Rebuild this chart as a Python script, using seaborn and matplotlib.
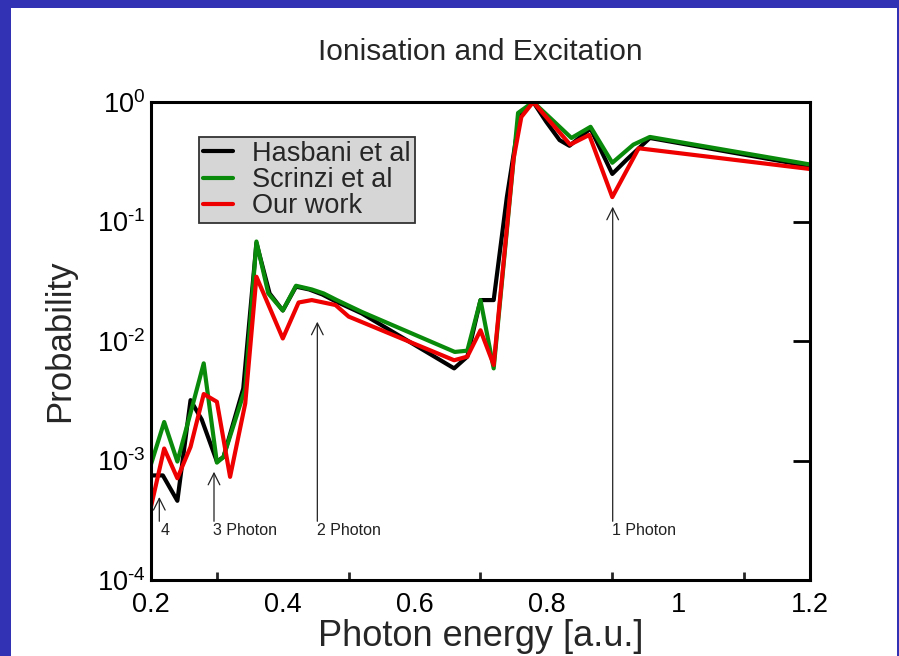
import matplotlib
matplotlib.use("Agg")
import matplotlib.pyplot as plt
from matplotlib.lines import Line2D
from matplotlib.patches import Rectangle
from matplotlib.ticker import FixedLocator, FixedFormatter, NullLocator
import pandas as pd
import seaborn as sns

# Photoionisation / excitation probabilities versus photon energy
hasbani_energy = [0.20, 0.218, 0.24, 0.26, 0.277, 0.30, 0.31, 0.34, 0.36, 0.38, 0.40, 0.42,
                  0.44, 0.46, 0.48, 0.52, 0.66, 0.68, 0.70, 0.72, 0.74, 0.76, 0.78, 0.80,
                  0.82, 0.835, 0.867, 0.90, 0.922, 0.957, 1.20]
hasbani_prob = [7.5e-4, 7.5e-4, 4.6e-4, 3.2e-3, 2.2e-3, 9.8e-4, 1.07e-3, 4.0e-3, 6.6e-2, 2.5e-2,
                1.8e-2, 2.85e-2, 2.7e-2, 2.45e-2, 2.15e-2, 1.7e-2, 5.9e-3, 7.4e-3, 2.2e-2,
                2.2e-2, 0.16, 0.80, 1.0, 0.68, 0.48, 0.43, 0.60, 0.25, 0.33, 0.50, 0.29]

scrinzi_energy = [0.20, 0.22, 0.24, 0.26, 0.28, 0.30, 0.31, 0.343, 0.36, 0.378, 0.40, 0.42,
                  0.444, 0.462, 0.482, 0.52, 0.661, 0.68, 0.70, 0.72, 0.757, 0.78, 0.838,
                  0.867, 0.90, 0.932, 0.957, 1.20]
scrinzi_prob = [9.3e-4, 2.1e-3, 9.8e-4, 2.5e-3, 6.5e-3, 9.6e-4, 1.07e-3, 4.0e-3, 6.8e-2, 2.5e-2,
                1.8e-2, 2.9e-2, 2.7e-2, 2.5e-2, 2.2e-2, 1.75e-2, 8.1e-3, 8.3e-3, 2.2e-2,
                5.9e-3, 0.81, 1.0, 0.50, 0.62, 0.31, 0.44, 0.51, 0.30]

our_energy = [0.20, 0.22, 0.24, 0.26, 0.28, 0.30, 0.32, 0.343, 0.36, 0.40, 0.424, 0.444,
              0.48, 0.50, 0.66, 0.68, 0.70, 0.72, 0.75, 0.762, 0.78, 0.836, 0.865, 0.90,
              0.94, 1.20]
our_prob = [4.1e-4, 1.26e-3, 7.1e-4, 1.3e-3, 3.6e-3, 3.1e-3, 7.3e-4, 3.0e-3, 3.45e-2, 1.05e-2,
            2.1e-2, 2.2e-2, 2.0e-2, 1.6e-2, 6.9e-3, 7.4e-3, 1.23e-2, 6.3e-3, 0.33, 0.75,
            1.0, 0.44, 0.53, 0.16, 0.41, 0.275]

series_names = ["Hasbani et al", "Scrinzi et al", "Our work"]
series_colors = ["#000000", "#0a8a0a", "#ee0000"]

# Photon-order markers: label, energy, arrow tip probability
photon_labels = ["4", "3 Photon", "2 Photon", "1 Photon"]
photon_energy = [0.2126, 0.2956, 0.4524, 0.9006]
photon_tip = [4.95e-4, 8.05e-4, 1.45e-2, 0.133]
arrow_base = 3.1e-4
label_level = 2.62e-4

x_ticks = [0.2, 0.4, 0.6, 0.8, 1.0, 1.2]
x_tick_labels = ["0.2", "0.4", "0.6", "0.8", "1", "1.2"]
x_minor_ticks = [0.3, 0.5, 0.7, 0.9, 1.1]
y_ticks = [1e-4, 1e-3, 1e-2, 1e-1, 1.0]
y_tick_labels = [r"$\mathdefault{10^{\text{-}4}}$", r"$\mathdefault{10^{\text{-}3}}$",
                 r"$\mathdefault{10^{\text{-}2}}$", r"$\mathdefault{10^{\text{-}1}}$",
                 r"$\mathdefault{10^{0}}$"]

frames = []
for name, e, p in [(series_names[0], hasbani_energy, hasbani_prob),
                   (series_names[1], scrinzi_energy, scrinzi_prob),
                   (series_names[2], our_energy, our_prob)]:
    frames.append(pd.DataFrame({"energy": e, "prob": p, "source": name}))
data = pd.concat(frames, ignore_index=True)

sns.set_theme(style="white")
plt.rcParams["font.family"] = ["Liberation Sans", "DejaVu Sans"]
plt.rcParams["mathtext.fontset"] = "custom"
plt.rcParams["mathtext.rm"] = "Liberation Sans"
plt.rcParams["mathtext.it"] = "Liberation Sans:italic"

W, H = 899, 656
fig = plt.figure(figsize=(W / 100, H / 100), dpi=100, facecolor="white")
ax = fig.add_axes([151 / W, 1 - 580 / H, 659 / W, 478 / H])

sns.lineplot(data=data, x="energy", y="prob", hue="source", hue_order=series_names,
             palette=series_colors, sort=False, estimator=None, linewidth=3.0,
             legend=False, ax=ax)

ax.set_yscale("log")
ax.set_xlim(0.2, 1.2)
ax.set_ylim(1e-4, 1.0)

ax.xaxis.set_major_locator(FixedLocator(x_ticks))
ax.xaxis.set_major_formatter(FixedFormatter(x_tick_labels))
ax.xaxis.set_minor_locator(FixedLocator(x_minor_ticks))
ax.yaxis.set_major_locator(FixedLocator(y_ticks))
ax.yaxis.set_major_formatter(FixedFormatter(y_tick_labels))
ax.yaxis.set_minor_locator(NullLocator())

ax.tick_params(axis="both", which="major", direction="in", length=12.5, width=2,
               labelsize=19.5, color="black", labelcolor="black")
ax.tick_params(axis="x", which="major", pad=9)
ax.tick_params(axis="y", which="major", right=True, pad=4)
ax.tick_params(axis="x", which="minor", direction="in", length=6, width=2, bottom=True)
for s in ax.spines.values():
    s.set_linewidth(2.2)
    s.set_color("black")

ax.set_xlabel("Photon energy [a.u.]", fontsize=26, labelpad=0)
ax.set_ylabel("Probability", fontsize=25, labelpad=15)
ax.set_title("Ionisation and Excitation", fontsize=21.5, pad=30)

# Photon-order arrows
for lab, e, tip in zip(photon_labels, photon_energy, photon_tip):
    ax.annotate("", xy=(e, tip), xytext=(e, arrow_base),
                arrowprops=dict(arrowstyle="->,head_length=0.6,head_width=0.3",
                                lw=0.9, color="#222222", mutation_scale=14,
                                shrinkA=0, shrinkB=0))
    dx = 0.002 if lab == "4" else -0.001
    ax.text(e + dx, label_level, lab, ha="left", va="center", fontsize=11.5,
            color="#222222")

handles = [Line2D([], [], color=c, lw=3.0) for c in series_colors]
leg = ax.legend(handles, series_names, loc="upper left",
                bbox_to_anchor=(199 / W, 1 - 137 / H), bbox_transform=fig.transFigure,
                fontsize=19.5, frameon=True, fancybox=False, framealpha=1,
                facecolor="#d6d6d6", edgecolor="#333333", borderpad=0.14,
                labelspacing=0.01, handlelength=1.1, handletextpad=0.72,
                borderaxespad=0)
leg.get_frame().set_linewidth(1.3)

# Blue slide frame around the plot
blue = "#3232b4"
fig.add_artist(Rectangle((0, 1 - 8 / H), 1, 8 / H, transform=fig.transFigure,
                         facecolor=blue, edgecolor="none"))
fig.add_artist(Rectangle((0, 0), 11 / W, 1, transform=fig.transFigure,
                         facecolor=blue, edgecolor="none"))
fig.add_artist(Rectangle((897 / W, 0), 2 / W, 1, transform=fig.transFigure,
                         facecolor=blue, edgecolor="none"))

fig.savefig("out.png", dpi=100, facecolor="white")
